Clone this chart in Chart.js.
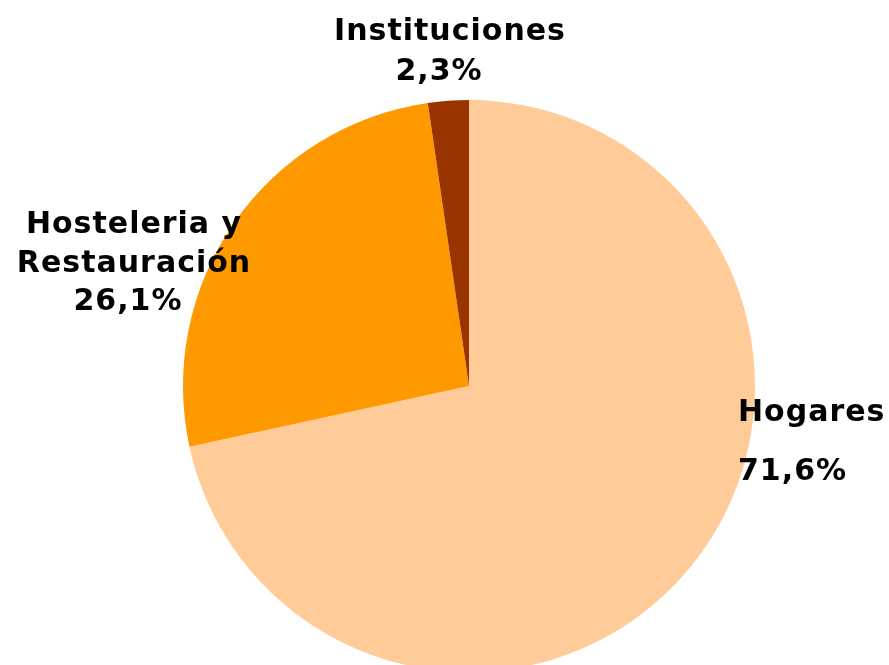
<!DOCTYPE html>
<html>
<head>
<meta charset="utf-8">
<script src="https://cdn.jsdelivr.net/npm/chart.js@4.4.0/dist/chart.umd.min.js"></script>
<style>
  html, body { margin: 0; padding: 0; background: #fff; overflow: hidden; }
  #chartBox { width: 889px; height: 665px; overflow: hidden; }
</style>
</head>
<body>
<div id="chartBox"><canvas id="pieChart" width="889" height="700"></canvas></div>
<script>
// data
const categorias = ["Hogares", "Hostelería y Restauración", "Instituciones"];
const porcentajes = [71.6, 26.1, 2.3];
const colores = ["#FFCC99", "#FF9900", "#993300"];

// label text, one entry per slice, each line separately
const etiquetas = [
    ["Hogares", "71,6%"],
    ["Hosteleria y", "Restauración", "26,1%"],
    ["Instituciones", "2,3%"]
];

// where each label goes (x per line, first baseline, line gap, align)
const etiquetaPos = [
    { x: [738, 738], y: 421, gap: 59, align: "left" },
    { x: [134, 134, 128], y: 233, gap: 38.5, align: "center" },
    { x: [450, 439], y: 40, gap: 40, align: "center" }
];

const labelPlugin = {
    id: "sliceLabels",
    afterDraw: function(chart){
        const ctx = chart.ctx;
        ctx.save();
        ctx.fillStyle = "#000";
        ctx.font = "bold 30px 'DejaVu Sans'";
        ctx.letterSpacing = "1px";
        ctx.textBaseline = "alphabetic";
        for (let i in etiquetas) {
            let p = etiquetaPos[i];
            ctx.textAlign = p.align;
            etiquetas[i].forEach(function(linea, j){
                ctx.fillText(linea, p.x[j], p.y + j * p.gap);
            });
        }
        ctx.restore();
    }
};

new Chart(document.getElementById("pieChart"), {
    type: "pie",
    data: {
        labels: categorias,
        datasets: [{
            data: porcentajes,
            backgroundColor: colores,
            borderWidth: 0
        }]
    },
    options: {
        responsive: false,
        animation: false,
        layout: { padding: { left: 183, top: 100, right: 134, bottom: 28 } },
        plugins: {
            legend: { display: false },
            tooltip: { enabled: false }
        }
    },
    plugins: [labelPlugin]
});
</script>
</body>
</html>
